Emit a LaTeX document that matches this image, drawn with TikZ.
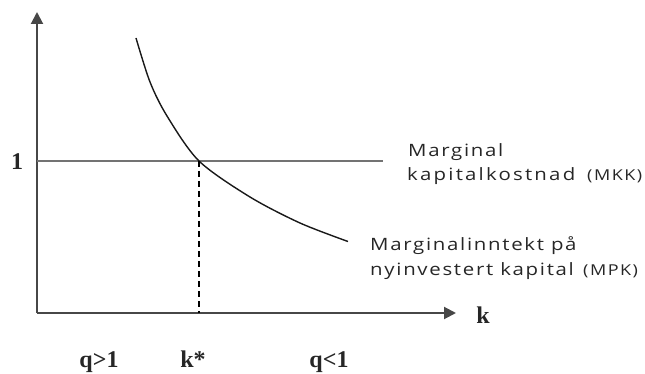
\documentclass[tikz,border=0pt]{standalone}
\usepackage{fontspec}
\setmainfont{Liberation Serif}
\newfontfamily\lbl[FakeStretch=1.2,LetterSpace=10]{Open Sans}
\usetikzlibrary{arrows.meta}
\tikzset{
  axis/.style={line width=2pt, draw=black!72, -{Triangle[length=12pt,width=12pt]}},
  mkkline/.style={line width=1.8pt, draw=black!55},
  mpkcurve/.style={line width=1.4pt, draw=black!90},
  dashline/.style={line width=1.4pt, dash pattern=on 6pt off 4pt},
  serifl/.style={font=\fontsize{24}{26}\selectfont\bfseries, inner sep=0pt, anchor=base, text=black!85},
  sansl/.style={font=\lbl\fontsize{17}{20}\selectfont, inner sep=0pt, anchor=base west, text=black!85},
  sanswide/.style={sansl, font=\lbl\fontsize{17}{20}\selectfont\addfontfeature{LetterSpace=13}},
  sanss/.style={font=\lbl\fontsize{15}{18}\selectfont, inner sep=0pt, anchor=base west, text=black!85},
}
\begin{document}
\begin{tikzpicture}[x=1pt,y=-1pt]
\useasboundingbox (0,0) rectangle (645,374);
\coordinate (O) at (37,313);
\coordinate (Y) at (37,12);
\coordinate (X) at (456,313);
\coordinate (L1) at (37,161);
\coordinate (L2) at (383,161);
\coordinate (E) at (199,161);
\coordinate (EK) at (199,313);
\draw[axis] (O) -- (Y);
\draw[axis] (O) -- (X);
\draw[mkkline] (L1) -- (L2);
\draw[mpkcurve] plot[smooth] coordinates {(136,38) (150,82) (167,116) (199,161) (250,197) (300,223) (348,241.5)};
\draw[dashline] (E) -- (EK);
\node[serifl] (one) at (17,170) {1};
\node[serifl] (k) at (483,323) {k};
\node[serifl] (q1) at (99,367) {q>1};
\node[serifl] (ks) at (193,367) {k*};
\node[serifl] (q2) at (329,367) {q<1};
\node[sansl] (mkka) at (408,157) {Marginal};
\node[sanswide] (mkkb) at (407,181) {kapitalkostnad};
\node[sanss] (mkkc) at (587,181) {(MKK)};
\node[sansl] (mpka) at (370,250) {Marginalinntekt på};
\node[sansl] (mpkb) at (370,275) {nyinvestert kapital};
\node[sanss] (mpkc) at (583,275) {(MPK)};
\end{tikzpicture}
\end{document}
